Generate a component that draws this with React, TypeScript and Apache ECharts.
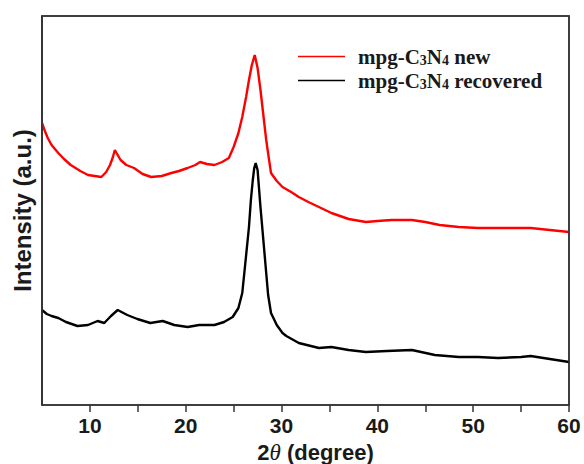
import React, { useEffect, useRef } from "react";
import * as echarts from "echarts";

// 2θ positions (degree) and intensities (a.u.) of the fresh sample
const newAngles = [
  5.0, 5.3, 5.6, 6.0, 6.7, 7.3, 8.0, 9.0, 9.8, 10.5, 11.2, 11.7, 12.1, 12.4, 12.6, 12.9,
  13.2, 13.8, 14.6, 15.5, 16.4, 17.5, 18.5, 19.3, 20.2, 21.0, 21.5, 22.2, 23.0, 23.8,
  24.5, 25.0, 25.5, 25.9, 26.3, 26.6, 26.9, 27.2, 27.5, 27.8, 28.1, 28.4, 28.7, 28.9,
  29.5, 30.1, 31.0, 31.8, 32.8, 33.9, 35.2, 37.0, 38.8, 40.0, 41.5, 43.6, 45.0, 46.5,
  48.5, 50.5, 52.6, 54.5, 56.0, 58.0, 60.0,
];
const newIntensity = [
  282, 274, 267, 260, 252, 246, 240, 234, 230, 229, 228, 233, 240, 248, 255, 250,
  245, 240, 237, 231, 228, 229, 232, 234, 237, 240, 243, 241, 240, 243,
  247, 258, 272, 288, 308, 325, 340, 350, 337, 315, 290, 265, 245, 232,
  224, 218, 213, 208, 203, 198, 192, 186, 183, 184, 185, 185, 183, 180,
  178, 177, 177, 177, 177, 175, 173,
];

// 2θ positions (degree) and intensities (a.u.) of the recovered sample
const recoveredAngles = [
  5.0, 5.5, 6.0, 6.7, 7.5, 8.7, 9.8, 10.8, 11.5, 12.2, 12.9, 13.9, 14.95, 16.3, 17.6,
  18.8, 20.2, 21.4, 23.0, 24.0, 24.9, 25.5, 25.9, 26.2, 26.6, 26.8, 27.0, 27.15, 27.3,
  27.5, 27.8, 28.1, 28.4, 28.6, 28.9, 29.5, 30.1, 30.5, 31.8, 33.9, 35.2, 37.0, 38.8,
  41.0, 43.6, 46.0, 48.5, 50.5, 52.6, 55.0, 56.0, 58.0, 60.0,
];
const recoveredIntensity = [
  95, 91, 89, 87, 83, 79, 80, 84, 82, 89, 95, 90, 86, 82, 84,
  80, 78, 80, 80, 83, 88, 97, 112, 140, 178, 205, 225, 237, 242,
  235, 198, 165, 132, 110, 92, 80, 72, 69, 62, 57, 58, 55, 53,
  54, 55, 50, 48, 48, 47, 48, 49, 46, 43,
];

const xTickLabels = ["10", "20", "30", "40", "50", "60"];
const X_MIN = 5;
const X_MAX = 60;
const Y_MIN = 0;
const Y_MAX = 389;

const SANS = "'Liberation Sans', Arial, sans-serif";
const SERIF = "'Liberation Serif', 'Times New Roman', serif";
const INK = "#1a1a1a";
const FRAME = "#333333";

const zip = (xs: number[], ys: number[]) => xs.map((x, i) => [x, ys[i]]);

const legendRich = {
  lead: { fontFamily: SERIF, fontWeight: "bold", fontSize: 21, color: INK, padding: [0, 0, 0, 8] },
  b: { fontFamily: SERIF, fontWeight: "bold", fontSize: 21, color: INK },
  s: { fontFamily: SERIF, fontWeight: "bold", fontSize: 14, color: INK, verticalAlign: "bottom" },
};

// plot box outline, placed through the axis scales at the axis extremes
const renderFrame = (_params: any, api: any) => {
  const p0 = api.coord([X_MIN, Y_MAX]);
  const p1 = api.coord([X_MAX, Y_MIN]);
  return {
    type: "polyline",
    silent: true,
    shape: { points: [[p0[0], p1[1]], [p0[0], p0[1]], [p1[0], p0[1]], [p1[0], p1[1]]] },
    style: { fill: null, stroke: FRAME, lineWidth: 1.5 },
  };
};

export default function App() {
  const ref = useRef<HTMLDivElement>(null);

  useEffect(() => {
    if (!ref.current) return;
    const chart = echarts.init(ref.current, undefined, { renderer: "svg" });
    chart.setOption({
      animation: false,
      grid: {
        left: 42,
        right: 15,
        top: 16,
        bottom: 59,
        outerBoundsMode: "none",
        show: true,
        borderColor: FRAME,
        borderWidth: 1.5,
      },
      legend: {
        orient: "vertical",
        left: 298,
        top: 46,
        padding: 0,
        icon: "rect",
        itemWidth: 47,
        itemHeight: 1.5,
        itemGap: 3,
        data: ["new", "recovered"],
        textStyle: { rich: legendRich },
        formatter: (name: string) =>
          name === "new"
            ? "{lead|mpg-C}{s|3}{b|N}{s|4}{b| new}"
            : "{lead|mpg-C}{s|3}{b|N}{s|4}{b| recovered}",
      },
      xAxis: {
        type: "value",
        min: X_MIN,
        max: X_MAX,
        interval: 5,
        name: "{n|2}{t|θ}{n| (degree)}",
        nameLocation: "middle",
        nameGap: 27,
        nameTextStyle: {
          padding: [0, 0, 0, 20],
          rich: {
            n: { fontFamily: SANS, fontWeight: "bold", fontSize: 22, color: INK },
            t: { fontFamily: SERIF, fontStyle: "italic", fontSize: 23, color: INK },
          },
        },
        axisLine: { show: true, onZero: false, lineStyle: { color: FRAME, width: 1.5 } },
        axisTick: { show: true, inside: false, length: 7, lineStyle: { color: FRAME, width: 1.5 } },
        splitLine: { show: false },
        axisLabel: {
          margin: 10,
          fontFamily: SANS,
          fontWeight: "bold",
          fontSize: 21,
          color: INK,
          showMinLabel: false,
          showMaxLabel: true,
          formatter: (v: number) => (xTickLabels.includes(String(v)) ? String(v) : ""),
        },
      },
      yAxis: {
        type: "value",
        min: Y_MIN,
        max: Y_MAX,
        name: "Intensity (a.u.)",
        nameLocation: "middle",
        nameGap: 8,
        nameTextStyle: { fontFamily: SANS, fontWeight: "bold", fontSize: 24, color: INK },
        axisLine: { show: true, onZero: false, lineStyle: { color: FRAME, width: 1.5 } },
        axisTick: { show: false },
        axisLabel: { show: false },
        splitLine: { show: false },
      },
      series: [
        {
          name: "new",
          type: "line",
          data: zip(newAngles, newIntensity),
          showSymbol: false,
          symbol: "none",
          lineStyle: { color: "#ff0000", width: 2.4 },
          itemStyle: { color: "#ff0000" },
        },
        {
          name: "recovered",
          type: "line",
          data: zip(recoveredAngles, recoveredIntensity),
          showSymbol: false,
          symbol: "none",
          lineStyle: { color: "#000000", width: 2.4 },
          itemStyle: { color: "#000000" },
        },
        {
          name: "frame",
          type: "custom",
          silent: true,
          clip: false,
          z: 10,
          data: [[X_MIN, Y_MIN]],
          renderItem: renderFrame,
        },
      ],
    });
    return () => chart.dispose();
  }, []);

  return (
    <div
      ref={ref}
      style={{ position: "fixed", left: 0, top: 0, width: 584, height: 464, background: "#ffffff" }}
    />
  );
}
